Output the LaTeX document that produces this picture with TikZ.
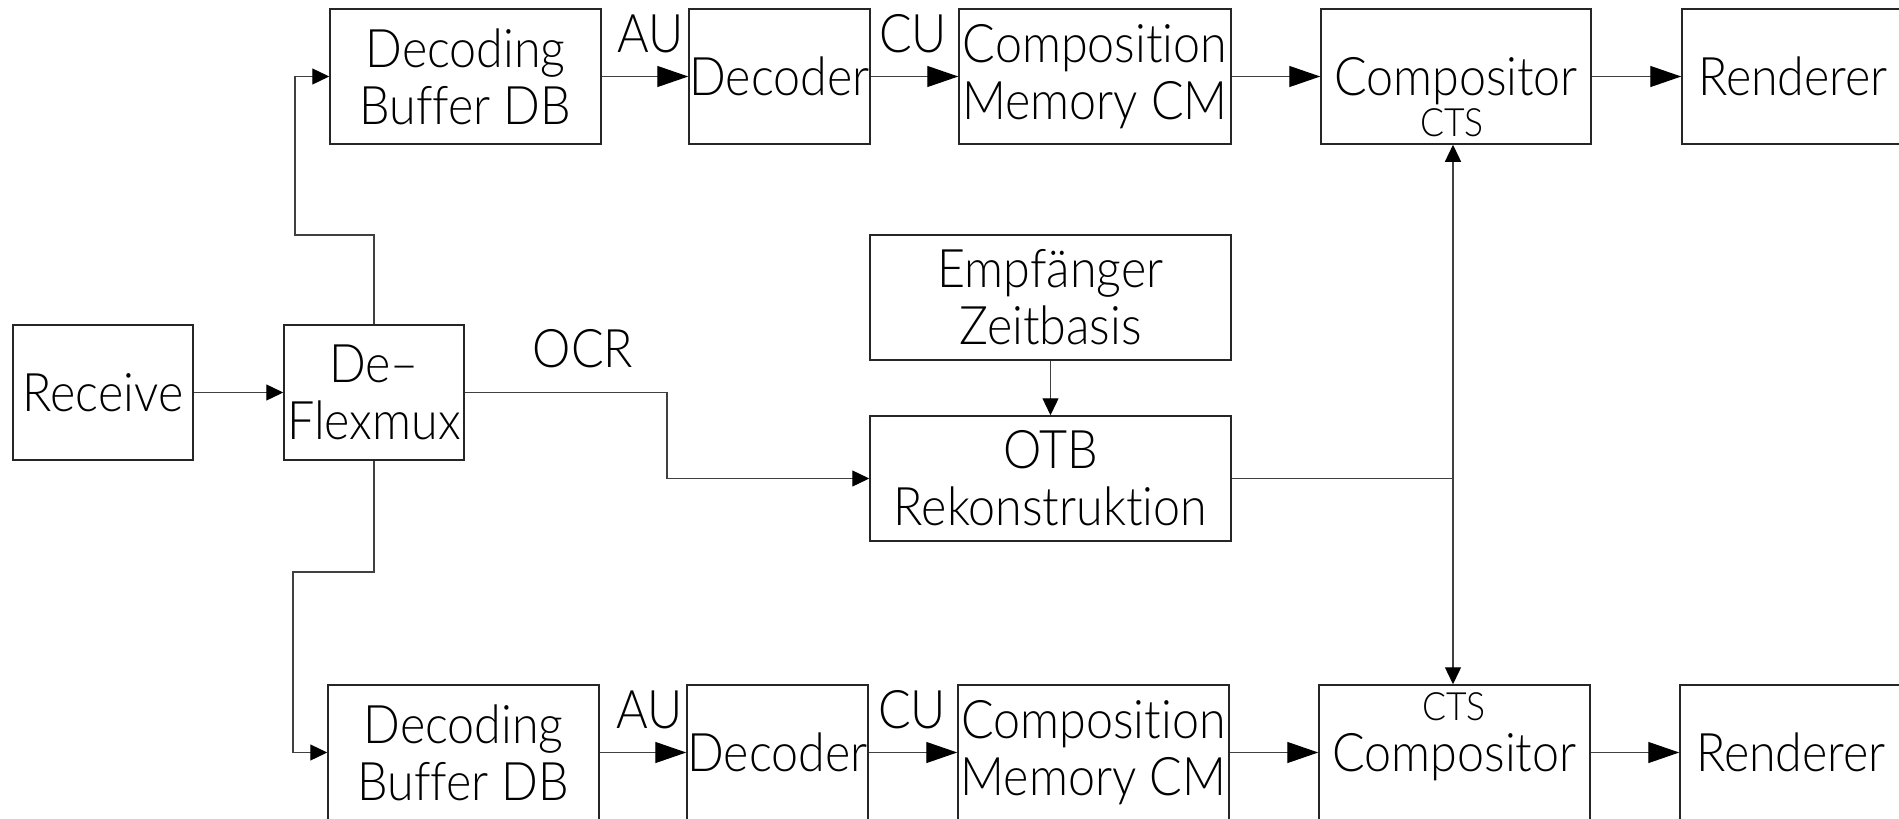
\documentclass[tikz,border=0pt]{standalone}
\usepackage{fontspec}
\setmainfont{Lato Light}[FakeStretch=0.91, Ligatures=NoCommon]
\usetikzlibrary{arrows.meta}

\tikzset{
  bigtip/.tip={Triangle[length=31pt,width=21pt,color=black]},
  smalltip/.tip={Triangle[length=17pt,width=16pt,color=black]},
  blk/.style={draw=black!85, line width=1.5pt, inner sep=0pt, align=center,
    font=\fontsize{53.2}{57}\selectfont},
  conn/.style={draw=black!75, line width=1.3pt},
  lbl/.style={inner sep=0pt, font=\fontsize{53.2}{57}\selectfont},
  tiny/.style={inner sep=0pt, font=\fontsize{39}{42}\selectfont},
}

\begin{document}
\begin{tikzpicture}[x=1pt,y=-1pt]
\clip (0,0) rectangle (1899,819);
\fill[white] (0,0) rectangle (1899,819);

% upper processing chain
\node[blk, minimum width=271pt, minimum height=135pt] (db1)   at (465.5,76.5) {Decoding\\Buffer DB};
\node[blk, minimum width=181pt, minimum height=135pt, text depth=0pt] (dec1)  at (779.5,76.5) {Decoder};
\node[blk, minimum width=272pt, minimum height=135pt] (cm1)   at (1095,76.5)  {Composition\\Memory CM};
\node[blk, minimum width=270pt, minimum height=135pt, text depth=0pt] (comp1) at (1456,76.5)  {Compositor};
\node[blk, minimum width=222pt, minimum height=135pt, text depth=0pt] (rend1) at (1793,76.5)  {Renderer};
\node[tiny, anchor=base] (cts1) at (1452,136) {CTS};

% lower processing chain
\node[blk, minimum width=271pt, minimum height=135pt] (db2)   at (463.5,752.5) {Decoding\\Buffer DB};
\node[blk, minimum width=181pt, minimum height=135pt, text depth=0pt] (dec2)  at (777.5,752.5) {Decoder};
\node[blk, minimum width=271pt, minimum height=135pt] (cm2)   at (1093.5,752.5) {Composition\\Memory CM};
\node[blk, minimum width=271pt, minimum height=135pt, text depth=0pt] (comp2) at (1454.5,752.5) {Compositor};
\node[blk, minimum width=222pt, minimum height=135pt, text depth=0pt] (rend2) at (1791,752.5)  {Renderer};
\node[tiny, anchor=base] (cts2) at (1454,720) {CTS};

% input side and clock recovery
\node[blk, minimum width=180pt, minimum height=135pt, text depth=0pt] (rec) at (103,392.5) {Receive};
\node[blk, minimum width=180pt, minimum height=135pt] (df)  at (374,392.5) {De--\\Flexmux};
\node[blk, minimum width=361pt, minimum height=125pt] (emp) at (1050.5,297.5) {Empfänger\\Zeitbasis};
\node[blk, minimum width=361pt, minimum height=125pt] (otb) at (1050.5,478.5) {OTB\\Rekonstruktion};

% connector labels
\node[lbl, anchor=base] (au1) at (651,52)  {AU};
\node[lbl, anchor=base] (cu1) at (913,52)  {CU};
\node[lbl, anchor=base] (au2) at (650,728) {AU};
\node[lbl, anchor=base] (cu2) at (912,728) {CU};
\node[lbl, anchor=base] (ocr) at (583,367)  {OCR};

% bend points
\coordinate (k1) at (295,235);
\coordinate (k2) at (293,572);
\coordinate (k3) at (667,392.5);
\coordinate (k4) at (1453,478.5);

% chain arrows
\draw[conn,-{bigtip}] (db1) -- (dec1);
\draw[conn,-{bigtip}] (dec1) -- (cm1);
\draw[conn,-{bigtip}] (cm1) -- (comp1);
\draw[conn,-{bigtip}] (comp1) -- (rend1);
\draw[conn,-{bigtip}] (db2) -- (dec2);
\draw[conn,-{bigtip}] (dec2) -- (cm2);
\draw[conn,-{bigtip}] (cm2) -- (comp2);
\draw[conn,-{bigtip}] (comp2) -- (rend2);

% demultiplexing
\draw[conn,-{smalltip}] (rec) -- (df);
\draw[conn,-{smalltip}] (df.north) |- (k1) |- (db1.west);
\draw[conn,-{smalltip}] (df.south) |- (k2) |- (db2.west);
\draw[conn,-{smalltip}] (df.east) -- (k3) |- (otb.west);

% time base
\draw[conn,-{smalltip}] (emp) -- (otb);
\draw[conn] (otb.east) -- (k4);
\draw[conn,-{smalltip}] (k4) -- (k4 |- comp1.south);
\draw[conn,-{smalltip}] (k4) -- (k4 |- comp2.north);
\end{tikzpicture}
\end{document}
